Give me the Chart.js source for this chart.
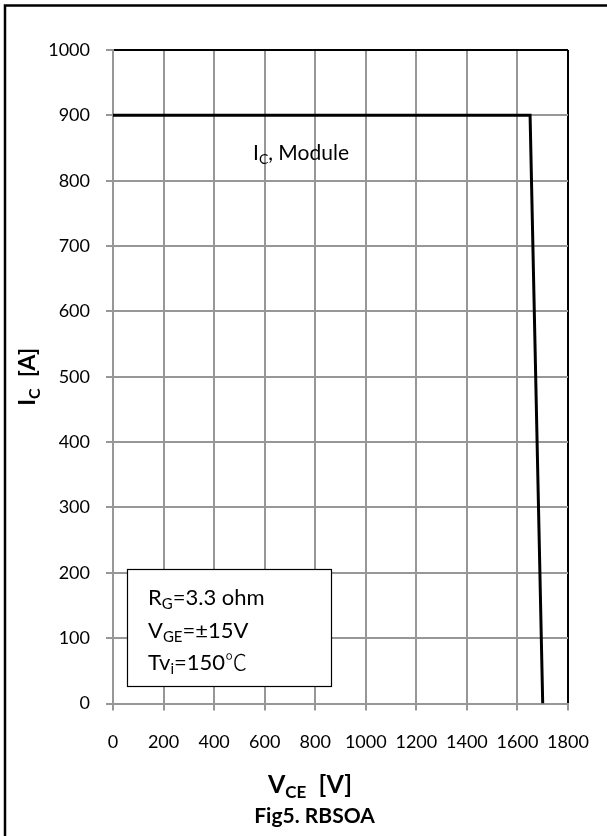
<!DOCTYPE html>
<html>
<head>
<meta charset="utf-8">
<script src="https://cdn.jsdelivr.net/npm/chart.js@4/dist/chart.umd.min.js"></script>
<style>
  html, body { margin: 0; padding: 0; background: #fff; }
  #wrap { width: 607px; height: 836px; }
</style>
</head>
<body>
<div id="wrap"><canvas id="c" width="607" height="836"></canvas></div>
<script>
// RBSOA boundary: collector-emitter voltage (V) vs collector current (A)
const vce = [0, 1650, 1700];
const ic = [900, 900, 0];

// Axis ranges and tick steps
const xRange = { min: 0, max: 1800, step: 200 };
const yRange = { min: 0, max: 1000, step: 100 };

// Text blocks; parts flagged "sub" are drawn as subscripts
const curveLabel = [{ t: 'I' }, { t: 'C', sub: true }, { t: ', Module' }];
const conditions = [
  [{ t: 'R' }, { t: 'G', sub: true }, { t: '=3.3 ohm' }],
  [{ t: 'V' }, { t: 'GE', sub: true }, { t: '=±15V' }],
  [{ t: 'Tv' }, { t: 'i', sub: true }, { t: '=150' }, { t: '℃', cjk: true }]
];
const yTitle = [{ t: 'I' }, { t: 'C', sub: true }, { t: '  [A]' }];
const xTitle = [{ t: 'V' }, { t: 'CE', sub: true }, { t: '  [V]' }];
const caption = 'Fig5. RBSOA';

const FONT = 'Lato, "Open Sans", sans-serif';
const CJK = '"Noto Sans CJK SC", sans-serif';
const GRID = '#979797';

function partFont(p, size, bold) {
  const s = p.sub ? Math.round(size * 0.68) : size;
  if (p.cjk) return '300 ' + s + 'px ' + CJK;
  return (bold ? 'bold ' : '') + s + 'px ' + FONT;
}

function richWidth(ctx, parts, size, bold) {
  let w = 0;
  for (const p of parts) {
    ctx.font = partFont(p, size, bold);
    w += ctx.measureText(p.t).width;
  }
  return w;
}

function drawRich(ctx, parts, x, y, size, bold) {
  ctx.textBaseline = 'alphabetic';
  ctx.textAlign = 'left';
  let cx = x;
  for (const p of parts) {
    ctx.font = partFont(p, size, bold);
    ctx.fillText(p.t, cx, p.sub ? y + size * 0.2 : y);
    cx += ctx.measureText(p.t).width;
  }
}

const annotations = {
  id: 'annotations',
  beforeDraw(chart) {
    const ctx = chart.ctx;
    ctx.save();
    ctx.fillStyle = '#fff';
    ctx.fillRect(0, 0, chart.width, chart.height);
    ctx.restore();
  },
  afterDraw(chart) {
    const ctx = chart.ctx;
    const a = chart.chartArea;
    ctx.save();

    // outer frame (top and left edges)
    ctx.strokeStyle = '#000';
    ctx.lineWidth = 2.5;
    ctx.beginPath();
    ctx.moveTo(chart.width, 5.5);
    ctx.lineTo(5, 5.5);
    ctx.lineTo(5, chart.height);
    ctx.stroke();

    ctx.fillStyle = '#000';

    // curve label
    drawRich(ctx, curveLabel, a.left + 140, 159.5, 21, false);

    // operating-condition box
    const bx = a.left + 14, by = 569, bw = 204, bh = 117;
    ctx.fillStyle = '#fff';
    ctx.fillRect(bx, by, bw, bh);
    ctx.strokeStyle = '#000';
    ctx.lineWidth = 1.2;
    ctx.strokeRect(bx + 0.5, by + 0.5, bw, bh);
    ctx.fillStyle = '#000';
    conditions.forEach((line, i) => {
      drawRich(ctx, line, bx + 21, 605 + i * 32.5, 22, false);
    });

    // y-axis title (rotated)
    const yw = richWidth(ctx, yTitle, 23, true);
    ctx.save();
    ctx.translate(35, (a.top + a.bottom) / 2);
    ctx.rotate(-Math.PI / 2);
    drawRich(ctx, yTitle, -yw / 2, 0, 23, true);
    ctx.restore();

    // x-axis title and caption
    const xw = richWidth(ctx, xTitle, 25, true);
    drawRich(ctx, xTitle, 310 - xw / 2, 793, 25, true);
    ctx.font = 'bold 21px ' + FONT;
    ctx.textAlign = 'center';
    ctx.fillText(caption, 314.5, 823);

    ctx.restore();
  }
};

const plain = v => String(v);

new Chart(document.getElementById('c'), {
  type: 'line',
  data: {
    datasets: [{
      data: vce.map((v, i) => ({ x: v, y: ic[i] })),
      borderColor: '#000',
      borderWidth: 3,
      pointRadius: 0,
      tension: 0,
      fill: false
    }]
  },
  options: {
    responsive: false,
    animation: false,
    devicePixelRatio: 1,
    layout: { padding: { left: 0, right: 39, top: 50, bottom: 0 } },
    plugins: { legend: { display: false }, tooltip: { enabled: false } },
    scales: {
      x: {
        type: 'linear',
        min: xRange.min, max: xRange.max,
        afterFit(s) { s.height = 132.5; s.paddingLeft = 0; s.paddingRight = 0; },
        ticks: { stepSize: xRange.step, color: '#000', padding: 21, maxRotation: 0,
                 callback: plain, font: { family: FONT, size: 18 } },
        grid: {
          color: c => (c.tick && c.tick.value === xRange.max) ? '#000' : GRID,
          tickColor: GRID, lineWidth: 2, tickLength: 7
        },
        border: { color: GRID, width: 2 }
      },
      y: {
        type: 'linear',
        min: yRange.min, max: yRange.max,
        afterFit(s) { s.width = 113; s.paddingTop = 0; s.paddingBottom = 0; },
        ticks: { stepSize: yRange.step, color: '#000', padding: 16,
                 callback: plain, font: { family: FONT, size: 18 } },
        grid: {
          color: c => (c.tick && c.tick.value === yRange.max) ? '#000' : GRID,
          tickColor: GRID, lineWidth: 2, tickLength: 7
        },
        border: { color: GRID, width: 2 }
      }
    }
  },
  plugins: [annotations]
});
</script>
</body>
</html>
